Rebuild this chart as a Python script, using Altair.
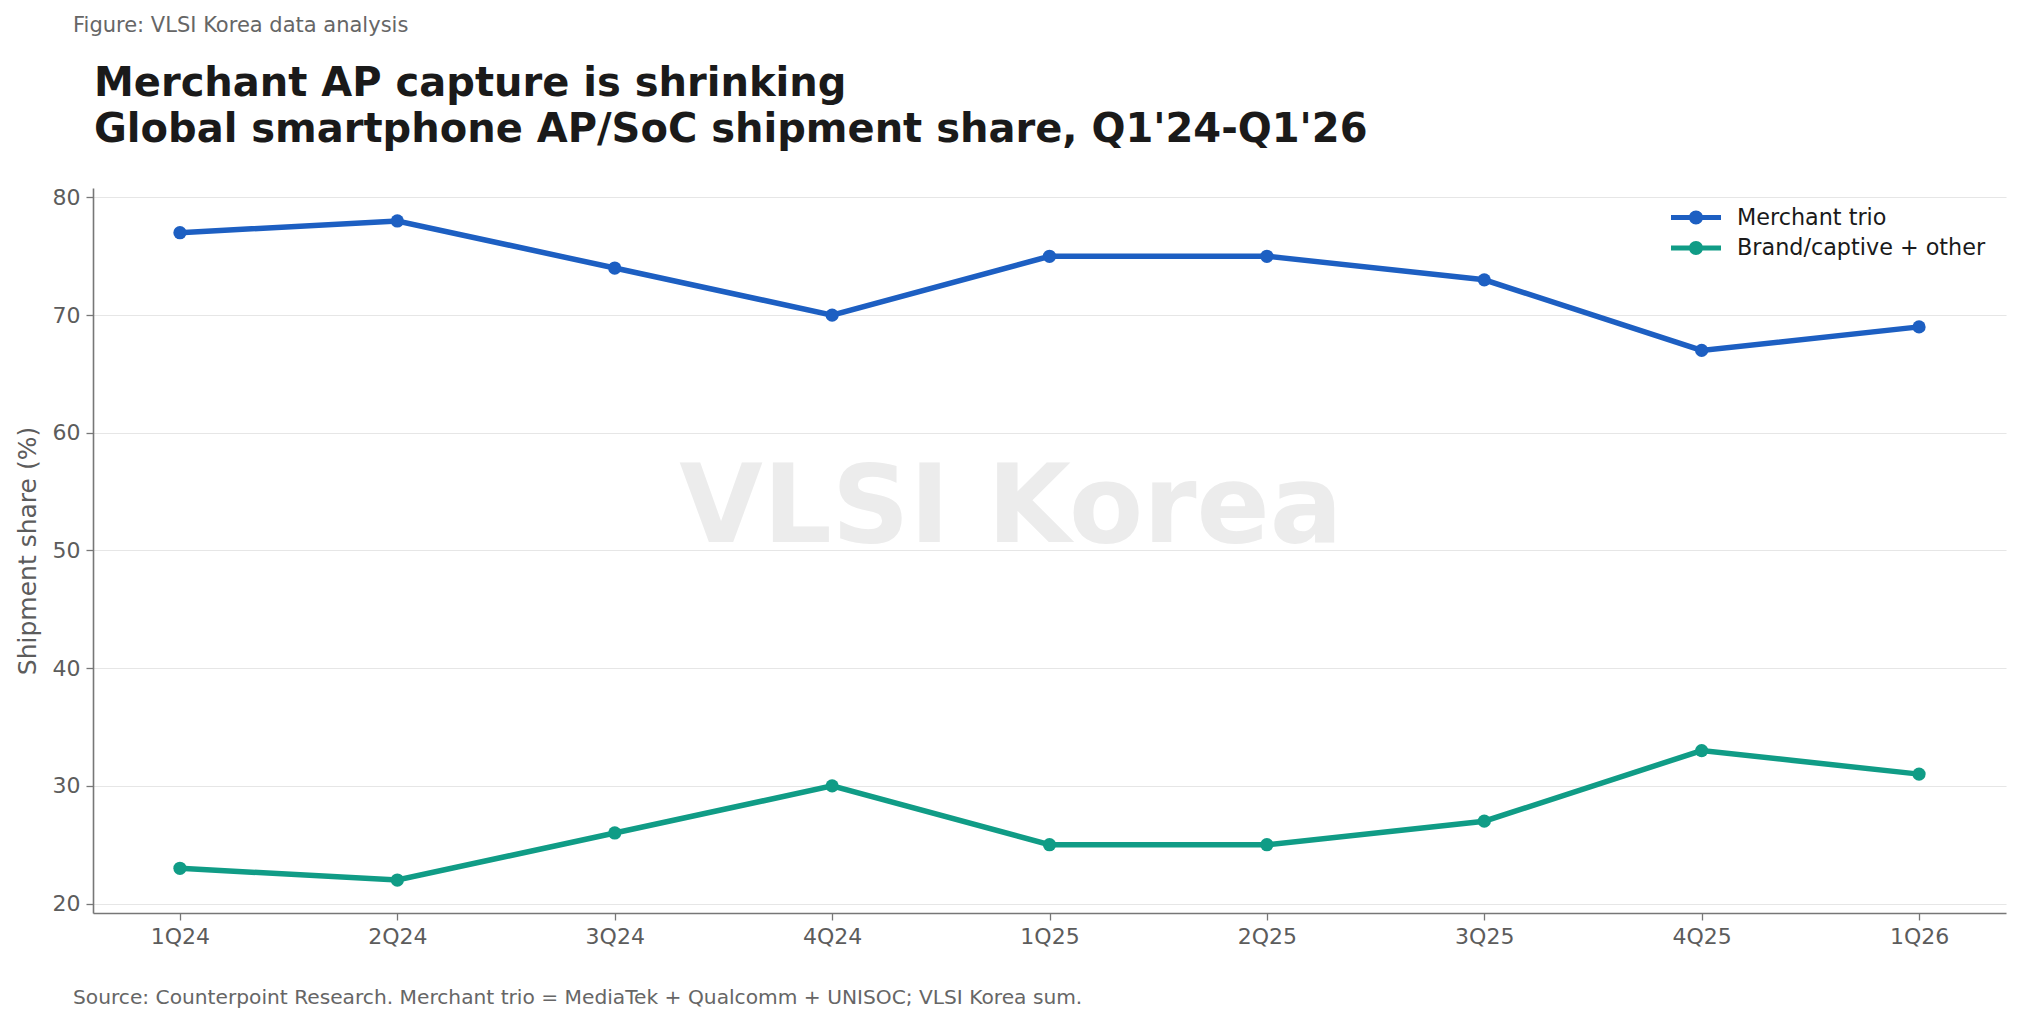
import altair as alt
import pandas as pd

quarters = ["1Q24", "2Q24", "3Q24", "4Q24", "1Q25", "2Q25", "3Q25", "4Q25", "1Q26"]
merchant_trio = [77, 78, 74, 70, 75, 75, 73, 67, 69]
brand_captive = [23, 22, 26, 30, 25, 25, 27, 33, 31]
series_names = ["Merchant trio", "Brand/captive + other"]
series_colors = ["#1d5fc2", "#109c86"]
y_ticks = [20, 30, 40, 50, 60, 70, 80]

title_lines = ["Merchant AP capture is shrinking",
               "Global smartphone AP/SoC shipment share, Q1'24-Q1'26"]
figure_label = "Figure: VLSI Korea data analysis"
source_note = ("Source: Counterpoint Research. Merchant trio = MediaTek + Qualcomm + UNISOC; "
               "VLSI Korea sum.")

rows = []
for q, m, b in zip(quarters, merchant_trio, brand_captive):
    rows.append({"quarter": q, "series": series_names[0], "share": m})
    rows.append({"quarter": q, "series": series_names[1], "share": b})
df = pd.DataFrame(rows)

FONT = "DejaVu Sans"
W, H = 1913, 725
PAD_L, PAD_T = 93, 188
GREY = "#5c5c5c"

x_enc = alt.X("quarter:N", sort=quarters,
              scale=alt.Scale(type="point", padding=0.4),
              axis=alt.Axis(title=None, labelFontSize=22, labelFont=FONT, labelColor=GREY,
                            labelAngle=0, tickSize=7, labelPadding=6, tickColor="#777777",
                            domainColor="#777777", domainWidth=1.6, tickWidth=1.3, grid=False))
y_enc = alt.Y("share:Q", scale=alt.Scale(domain=[19.2, 80.8], nice=False, zero=False),
              axis=alt.Axis(title="Shipment share (%)", values=y_ticks, titleFontSize=25,
                            titleFont=FONT, titleFontWeight="normal", titleColor=GREY,
                            titlePadding=12, labelFontSize=22, labelFont=FONT,
                            labelColor=GREY, tickSize=7, labelPadding=6,
                            tickColor="#777777", tickWidth=1.3, domainColor="#777777",
                            domainWidth=1.6, grid=True, gridColor="#e6e6e6", gridWidth=1.2))
color_scale = alt.Scale(domain=series_names, range=series_colors)

# symbolSize 900 -> unit scale 15 px; path extends beyond unit box on purpose
legend_path = ("M-1.667,-0.167H1.667V0.167H-1.667Z "
               "M-0.467,0A0.467,0.467 0 1,1 0.467,0A0.467,0.467 0 1,1 -0.467,0Z")
legend = alt.Legend(title=None, orient="none", legendX=1588, legendY=14.5,
                    symbolType=legend_path, symbolSize=900, symbolStrokeWidth=0,
                    symbolOpacity=1, labelFontSize=22.3, labelFont=FONT, labelColor="#1a1a1a",
                    labelOffset=26, labelLimit=500, rowPadding=3.6, padding=0)
color_enc = alt.Color("series:N", scale=color_scale, sort=series_names, legend=legend)

base = alt.Chart(df)

lines = base.mark_line(strokeWidth=5.5).encode(x=x_enc, y=y_enc, color=color_enc)
points = base.mark_point(filled=True, size=175, opacity=1).encode(x=x_enc, y=y_enc, color=color_enc)

watermark = alt.Chart(pd.DataFrame({"t": ["VLSI Korea"]})).mark_text(
    font=FONT, fontSize=108, fontWeight="bold", color="#ececec", align="center",
    baseline="alphabetic").encode(text="t:N", x=alt.value(918), y=alt.value(354))

title = alt.Chart(pd.DataFrame({"t": ["\n".join(title_lines)]})).mark_text(
    font=FONT, fontSize=40, fontWeight="bold", color="#1a1a1a", align="left",
    baseline="alphabetic", lineBreak="\n", lineHeight=46).encode(
    text="t:N", x=alt.value(1), y=alt.value(-92))

fig_label = alt.Chart(pd.DataFrame({"t": [figure_label]})).mark_text(
    font=FONT, fontSize=21, color="#666666", align="left", baseline="alphabetic").encode(
    text="t:N", x=alt.value(-20), y=alt.value(-156))

source = alt.Chart(pd.DataFrame({"t": [source_note]})).mark_text(
    font=FONT, fontSize=20.2, color="#666666", align="left", baseline="alphabetic").encode(
    text="t:N", x=alt.value(-20), y=alt.value(816))

chart = alt.layer(watermark, lines, points, title, fig_label, source).properties(
    width=W, height=H,
    autosize=alt.AutoSizeParams(type="none"),
    padding={"left": PAD_L, "top": PAD_T, "right": 2022 - PAD_L - W, "bottom": 1026 - PAD_T - H},
    background="white",
).configure_view(stroke=None)

chart.save("out.html", embed_options={"renderer": "svg", "actions": False})
